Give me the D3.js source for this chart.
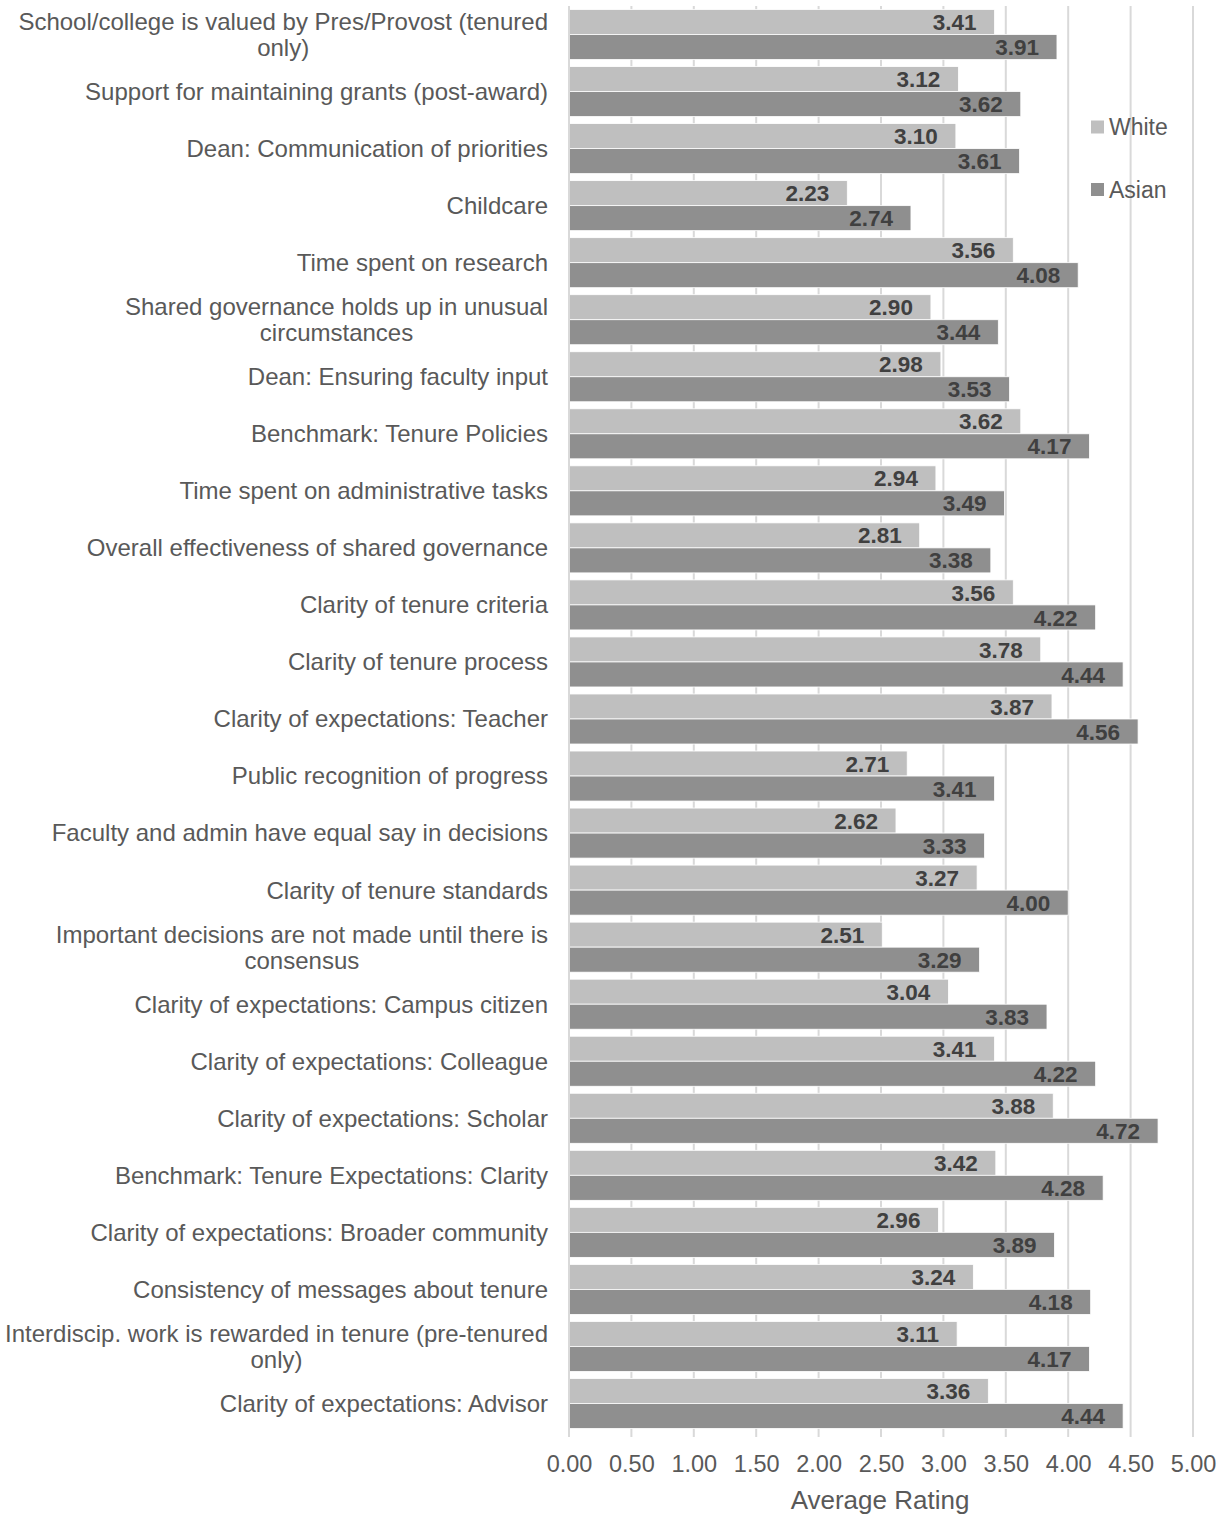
<!DOCTYPE html>
<html>
<head>
<meta charset="utf-8">
<script src="https://cdn.jsdelivr.net/npm/d3@7"></script>
<style>
  html, body { margin: 0; padding: 0; background: #ffffff; }
  svg { display: block; }
  svg text { font-family: Arial, "Liberation Sans", Helvetica, sans-serif; }
</style>
</head>
<body>
<svg id="chart" width="1228" height="1515"></svg>
<script>
// Survey items, top to bottom; "\n" marks a wrapped label line
const categories = [
  "School/college is valued by Pres/Provost (tenured\nonly)",
  "Support for maintaining grants (post-award)",
  "Dean: Communication of priorities",
  "Childcare",
  "Time spent on research",
  "Shared governance holds up in unusual\ncircumstances",
  "Dean: Ensuring faculty input",
  "Benchmark: Tenure Policies",
  "Time spent on administrative tasks",
  "Overall effectiveness of shared governance",
  "Clarity of tenure criteria",
  "Clarity of tenure process",
  "Clarity of expectations: Teacher",
  "Public recognition of progress",
  "Faculty and admin have equal say in decisions",
  "Clarity of tenure standards",
  "Important decisions are not made until there is\nconsensus",
  "Clarity of expectations: Campus citizen",
  "Clarity of expectations: Colleague",
  "Clarity of expectations: Scholar",
  "Benchmark: Tenure Expectations: Clarity",
  "Clarity of expectations: Broader community",
  "Consistency of messages about tenure",
  "Interdiscip. work is rewarded in tenure (pre-tenured\nonly)",
  "Clarity of expectations: Advisor"
];

const seriesNames = ["White", "Asian"];

const whiteValues = [3.41, 3.12, 3.10, 2.23, 3.56, 2.90, 2.98, 3.62, 2.94, 2.81,
  3.56, 3.78, 3.87, 2.71, 2.62, 3.27, 2.51, 3.04, 3.41, 3.88, 3.42, 2.96, 3.24, 3.11, 3.36];

const asianValues = [3.91, 3.62, 3.61, 2.74, 4.08, 3.44, 3.53, 4.17, 3.49, 3.38,
  4.22, 4.44, 4.56, 3.41, 3.33, 4.00, 3.29, 3.83, 4.22, 4.72, 4.28, 3.89, 4.18, 4.17, 4.44];

const xTicks = [0, 0.5, 1, 1.5, 2, 2.5, 3, 3.5, 4, 4.5, 5];

const colors = { White: "#bfbfbf", Asian: "#8f8f8f" };

const svg = d3.select("#chart");
const plot = { left: 569, right: 1193, top: 6, bottom: 1432 };

const x = d3.scaleLinear().domain([0, 5]).range([plot.left, plot.right]);
const y = d3.scaleBand().domain(d3.range(categories.length))
  .range([plot.top, plot.bottom]).paddingInner(0.123).paddingOuter(0.0615);
const inner = d3.scaleBand().domain(seriesNames).range([0, y.bandwidth()]);

const rows = categories.map((c, i) => ({ i, label: c, White: whiteValues[i], Asian: asianValues[i] }));

// vertical gridlines (extend a few px below the plot as tick marks)
svg.append("g").selectAll("line").data(xTicks).join("line")
  .attr("x1", d => x(d)).attr("x2", d => x(d))
  .attr("y1", plot.top).attr("y2", plot.bottom + 5)
  .attr("stroke", "#d9d9d9").attr("stroke-width", 2);

// bars
const groups = svg.append("g").selectAll("g").data(rows).join("g")
  .attr("transform", d => `translate(0,${y(d.i)})`);

groups.selectAll("rect").data(d => seriesNames.map(s => ({ s, v: d[s] }))).join("rect")
  .attr("x", x(0))
  .attr("y", d => inner(d.s))
  .attr("width", d => x(d.v) - x(0))
  .attr("height", inner.bandwidth())
  .attr("fill", d => colors[d.s])
  .attr("stroke", "#ffffff").attr("stroke-width", 0.8);

// value labels inside bar ends
groups.selectAll("text").data(d => seriesNames.map(s => ({ s, v: d[s] }))).join("text")
  .attr("x", d => x(d.v) - 18)
  .attr("y", d => inner(d.s) + inner.bandwidth() / 2)
  .attr("dy", "0.36em")
  .attr("text-anchor", "end")
  .attr("font-size", 22.5).attr("font-weight", "bold")
  .attr("fill", "#404040")
  .text(d => d.v.toFixed(2));

// y axis line
svg.append("line")
  .attr("x1", plot.left).attr("x2", plot.left)
  .attr("y1", plot.top).attr("y2", plot.bottom + 5)
  .attr("stroke", "#d9d9d9").attr("stroke-width", 2);

// category labels, right aligned; wrapped lines centered under the first line
const labelRight = 548;
const labelG = svg.append("g").attr("font-size", 24).attr("fill", "#595959");
rows.forEach(d => {
  const lines = d.label.split("\n");
  const cy = y(d.i) + y.bandwidth() / 2;
  if (lines.length === 1) {
    labelG.append("text").attr("x", labelRight).attr("y", cy).attr("dy", "0.35em")
      .attr("text-anchor", "end").text(lines[0]);
  } else {
    const lh = 26;
    const t0 = labelG.append("text").attr("x", labelRight).attr("y", cy - lh / 2).attr("dy", "0.35em")
      .attr("text-anchor", "end").text(lines[0]);
    const w = t0.node().getComputedTextLength();
    labelG.append("text").attr("x", labelRight - w / 2).attr("y", cy + lh / 2).attr("dy", "0.35em")
      .attr("text-anchor", "middle").text(lines[1]);
  }
});

// x axis tick labels
const xAxis = d3.axisBottom(x).tickValues(xTicks).tickFormat(d3.format(".2f")).tickSize(0).tickPadding(0);
const ax = svg.append("g").attr("transform", `translate(0,1472)`).call(xAxis);
ax.attr("font-family", null);
ax.select(".domain").remove();
ax.selectAll("text").attr("font-size", 23.5).attr("fill", "#595959").attr("dy", "0");

// axis title
svg.append("text").attr("x", 880).attr("y", 1509)
  .attr("text-anchor", "middle").attr("font-size", 26).attr("fill", "#595959")
  .text("Average Rating");

// legend
const legend = svg.append("g").attr("transform", "translate(1091,127)");
seriesNames.forEach((s, i) => {
  const g = legend.append("g").attr("transform", `translate(0,${i * 62.5})`);
  g.append("rect").attr("x", 0).attr("y", -6.5).attr("width", 13).attr("height", 13).attr("fill", colors[s]);
  g.append("text").attr("x", 18).attr("y", 0).attr("dy", "0.35em")
    .attr("font-size", 23).attr("fill", "#595959").text(s);
});
</script>
</body>
</html>
